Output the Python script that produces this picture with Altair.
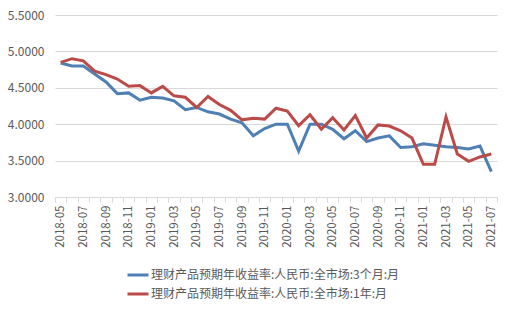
import altair as alt
import pandas as pd

months = ["2018-05","2018-06","2018-07","2018-08","2018-09","2018-10","2018-11","2018-12",
          "2019-01","2019-02","2019-03","2019-04","2019-05","2019-06","2019-07","2019-08","2019-09","2019-10","2019-11","2019-12",
          "2020-01","2020-02","2020-03","2020-04","2020-05","2020-06","2020-07","2020-08","2020-09","2020-10","2020-11","2020-12",
          "2021-01","2021-02","2021-03","2021-04","2021-05","2021-06","2021-07"]

s3m = [4.84,4.80,4.80,4.69,4.58,4.42,4.43,4.33,
       4.37,4.36,4.32,4.20,4.23,4.17,4.14,4.07,4.02,3.84,3.94,4.00,
       4.00,3.63,4.00,4.00,3.93,3.80,3.91,3.76,3.81,3.84,3.68,3.69,
       3.73,3.71,3.69,3.68,3.66,3.70,3.35]

s1y = [4.85,4.90,4.87,4.73,4.68,4.62,4.52,4.53,
       4.43,4.52,4.39,4.37,4.23,4.38,4.27,4.19,4.06,4.08,4.07,4.22,
       4.18,3.98,4.13,3.93,4.09,3.92,4.12,3.81,3.99,3.975,3.91,3.81,
       3.45,3.45,4.10,3.59,3.49,3.55,3.59]

names = ["理财产品预期年收益率:人民币:全市场:3个月:月", "理财产品预期年收益率:人民币:全市场:1年:月"]
colors = ["#4E7FB5", "#BA4B49"]

rows = []
for m, a, b in zip(months, s3m, s1y):
    rows.append({"month": m, "series": names[0], "value": a})
    rows.append({"month": m, "series": names[1], "value": b})
df = pd.DataFrame(rows)

font = "Noto Sans CJK SC"

chart = alt.Chart(df).mark_line(strokeWidth=3).encode(
    x=alt.X("month:O", sort=months, title=None,
            scale=alt.Scale(type="band", paddingInner=0, paddingOuter=0),
            axis=alt.Axis(labelAngle=-90, labelFont=font, labelFontSize=11.5, labelColor="#595959",
                          labelExpr="isString(datum.value) && toNumber(slice(datum.value, 5)) % 2 == 1 ? datum.value : ''",
                          tickBand="extent", tickColor="#d9d9d9", tickSize=5, domainColor="#d9d9d9",
                          labelPadding=3, grid=False)),
    y=alt.Y("value:Q", title=None, scale=alt.Scale(domain=[3.0, 5.5], nice=False, zero=False),
            axis=alt.Axis(values=[3.0, 3.5, 4.0, 4.5, 5.0, 5.5], format=".4f", labelFont=font,
                          labelFontSize=12, labelColor="#595959", ticks=False, domain=False,
                          gridColor="#d9d9d9", labelPadding=11)),
    color=alt.Color("series:N", sort=names, scale=alt.Scale(domain=names, range=colors),
                    legend=alt.Legend(title=None, orient="none", legendX=71, legendY=248, direction="vertical",
                                      symbolType="stroke", symbolSize=441, symbolStrokeWidth=3,
                                      labelFont=font, labelFontSize=12, labelColor="#595959",
                                      labelLimit=0, rowPadding=1, labelOffset=1)),
).properties(
    width=442, height=182,
    autosize=alt.AutoSizeParams(type="none"),
    padding={"left": 55, "top": 15, "right": 11, "bottom": 118},
    background="white",
).configure_view(stroke=None)

chart.save("out.html", embed_options={"renderer": "svg", "actions": False})
